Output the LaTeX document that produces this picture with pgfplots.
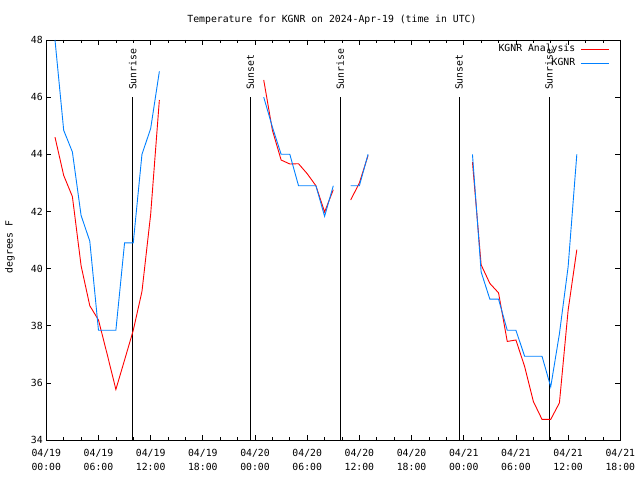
\documentclass[border=0pt]{standalone}
\usepackage{pgfplots}
\pgfplotsset{compat=1.18}
\usepackage{fontspec}
\setmainfont{DejaVu Sans Mono}
\definecolor{obsblue}{RGB}{0,128,255}
\begin{document}
\begin{tikzpicture}[font=\fontsize{9.8bp}{12bp}\selectfont]
\useasboundingbox (0,0) rectangle (640bp,480bp);
\begin{axis}[
  at={(46.3bp,40bp)}, anchor=south west,
  scale only axis, width=574bp, height=400bp,
  xmin=0, xmax=66, ymin=34, ymax=48,
  xtick={0,6,...,66}, minor x tick num=2,
  xticklabels={{04/19\\00:00},{04/19\\06:00},{04/19\\12:00},{04/19\\18:00},{04/20\\00:00},{04/20\\06:00},{04/20\\12:00},{04/20\\18:00},{04/21\\00:00},{04/21\\06:00},{04/21\\12:00},{04/21\\18:00}},
  xticklabel style={align=center, yshift=-6bp, font=\fontsize{9.8bp}{14bp}\selectfont},
  ytick={34,36,...,48},
  tick align=inside, major tick length=5bp, minor tick length=3bp,
  every tick/.style={black, line width=0.7bp},
  axis line style={line width=0.8bp},
  /pgf/number format/assume math mode=true,
  unbounded coords=jump,
  legend plot pos=right, legend cell align=right,
  legend image code/.code={\draw[#1] (0bp,0bp) -- (28bp,0bp);},
  legend style={draw=none, fill=none, inner sep=0pt, anchor=north east,
    at={(rel axis cs:0.981,0.995)}, row sep=0.5bp, column sep=3bp,
    nodes={inner sep=2bp, text height=7.5bp, text depth=2.3bp}},
]
% sunrise / sunset markers
\addplot[black, line width=0.8bp, forget plot] coordinates {(9.93,34) (9.93,46)};
\addplot[black, line width=0.8bp, forget plot] coordinates {(23.45,34) (23.45,46)};
\addplot[black, line width=0.8bp, forget plot] coordinates {(33.8,34) (33.8,46)};
\addplot[black, line width=0.8bp, forget plot] coordinates {(47.47,34) (47.47,46)};
\addplot[black, line width=0.8bp, forget plot] coordinates {(57.8,34) (57.8,46)};
\node[rotate=90, anchor=west, inner xsep=7bp, inner ysep=0pt] at (axis cs:9.93,46) {Sunrise};
\node[rotate=90, anchor=west, inner xsep=7bp, inner ysep=0pt] at (axis cs:23.45,46) {Sunset};
\node[rotate=90, anchor=west, inner xsep=7bp, inner ysep=0pt] at (axis cs:33.8,46) {Sunrise};
\node[rotate=90, anchor=west, inner xsep=7bp, inner ysep=0pt] at (axis cs:47.47,46) {Sunset};
\node[rotate=90, anchor=west, inner xsep=7bp, inner ysep=0pt] at (axis cs:57.8,46) {Sunrise};
% KGNR Analysis
\addplot[red, line width=0.9bp] table[row sep=\\] {
x y\\
1 44.6\\ 2 43.26\\ 3 42.52\\ 4 40.1\\ 5 38.7\\ 6 38.2\\ 7 37.0\\ 8 35.77\\ 9 36.8\\ 10 37.84\\ 11 39.2\\ 12 41.9\\ 13 45.9\\
14 nan\\
25 46.6\\ 26 44.84\\ 27 43.8\\ 28 43.66\\ 29 43.67\\ 30 43.32\\ 31 42.9\\ 32 41.98\\ 33 42.76\\
34 nan\\
35 42.4\\ 36 43.0\\ 37 43.96\\
38 nan\\
49 43.73\\ 50 40.13\\ 51 39.48\\ 52 39.15\\ 53 37.45\\ 54 37.5\\ 55 36.57\\ 56 35.35\\ 57 34.72\\ 58 34.72\\ 59 35.3\\ 60 38.54\\ 61 40.66\\
};
\addlegendentry{KGNR Analysis}
% KGNR observations
\addplot[obsblue, line width=0.9bp] table[row sep=\\] {
x y\\
1 48.0\\ 2 44.84\\ 3 44.08\\ 4 41.86\\ 5 40.96\\ 6 37.84\\ 7 37.84\\ 8 37.84\\ 9 40.9\\ 10 40.9\\ 11 44.0\\ 12 44.9\\ 13 46.9\\
14 nan\\
25 46.0\\ 26 44.95\\ 27 44.0\\ 28 44.0\\ 29 42.9\\ 30 42.9\\ 31 42.9\\ 32 41.83\\ 33 42.9\\
34 nan\\
35 42.9\\ 36 42.9\\ 37 44.0\\
38 nan\\
49 44.0\\ 50 39.88\\ 51 38.93\\ 52 38.93\\ 53 37.84\\ 54 37.84\\ 55 36.93\\ 56 36.93\\ 57 36.93\\ 58 35.86\\ 59 37.72\\ 60 40.06\\ 61 44.0\\
};
\addlegendentry{KGNR}
\end{axis}
\node at (332bp,460bp) {Temperature for KGNR on 2024-Apr-19 (time in UTC)};
\node[rotate=90] at (10bp,233bp) {degrees F};
\end{tikzpicture}
\end{document}
